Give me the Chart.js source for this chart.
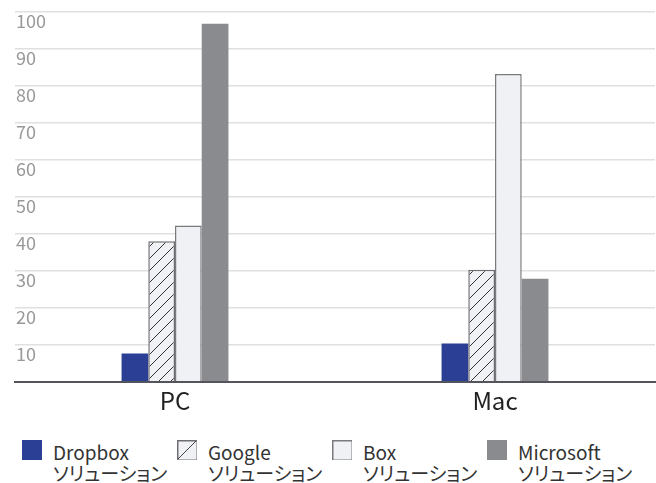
<!DOCTYPE html>
<html>
<head>
<meta charset="utf-8">
<script src="https://cdn.jsdelivr.net/npm/chart.js@4/dist/chart.umd.min.js"></script>
<style>
  html, body { margin: 0; padding: 0; background: #fff; }
  #wrap { position: relative; width: 656px; height: 483px; overflow: hidden; }
  #chartBox { position: absolute; left: 0; top: 0; width: 656px; height: 425px; }
  .item { position: absolute; top: 440px; }
  .item svg { position: absolute; left: 0; top: 0; }
  .item .txt {
    position: absolute; left: 31px; top: 1px; white-space: nowrap;
    font-family: "Noto Sans CJK JP", sans-serif; font-size: 19px; line-height: 21px;
    color: #333; font-feature-settings: "palt";
  }
</style>
</head>
<body>
<div id="wrap">
  <div id="chartBox"><canvas id="chart" width="656" height="425"></canvas></div>
  <div id="legend"></div>
</div>
<script>
const categories = ['PC', 'Mac'];
const seriesNames = ['Dropbox', 'Google', 'Box', 'Microsoft'];
const seriesSub = 'ソリューション';
const dropbox = [7.7, 10.4];
const google = [38.0, 30.3];
const box = [42.3, 83.2];
const microsoft = [96.8, 27.9];
const yTicks = [0, 10, 20, 30, 40, 50, 60, 70, 80, 90, 100];

// hatch pattern for Google
function hatch() {
    const c = document.createElement('canvas');
    c.width = 12; c.height = 12;
    const g = c.getContext('2d');
    g.fillStyle = '#f0f1f4';
    g.fillRect(0, 0, 12, 12);
    g.strokeStyle = '#333';
    g.lineWidth = 1;
    g.beginPath();
    g.moveTo(-1, 13); g.lineTo(13, -1);
    g.moveTo(-1, 1); g.lineTo(1, -1);
    g.moveTo(11, 13); g.lineTo(13, 11);
    g.stroke();
    return g.createPattern(c, 'repeat');
}

const ctx = document.getElementById('chart').getContext('2d');
new Chart(ctx, {
    type: 'bar',
    data: {
        labels: categories,
        datasets: [
            { label: seriesNames[0], data: dropbox, backgroundColor: '#2b3f95', borderWidth: 0 },
            { label: seriesNames[1], data: google, backgroundColor: hatch(), borderColor: '#6e6e72', borderWidth: 1.5 },
            { label: seriesNames[2], data: box, backgroundColor: '#f0f1f4', borderColor: '#7a7a7e', borderWidth: 1.5 },
            { label: seriesNames[3], data: microsoft, backgroundColor: '#8a8b8f', borderWidth: 0 }
        ]
    },
    options: {
        responsive: false,
        animation: false,
        layout: { padding: { top: 11, left: 15, right: 1, bottom: 0 } },
        datasets: { bar: { categoryPercentage: 0.334, barPercentage: 1 } },
        plugins: { legend: { display: false }, tooltip: { enabled: false } },
        scales: {
            x: {
                grid: { display: false, drawTicks: false },
                border: { display: true, color: '#55535e', width: 2, z: 2 },
                ticks: { color: '#222', padding: 4, font: { family: 'Noto Sans CJK JP', size: 24 } },
                afterFit: s => { s.height = 43; }
            },
            y: {
                min: 0, max: 100,
                afterBuildTicks: s => { s.ticks = yTicks.map(v => ({ value: v })); },
                grid: {
                    drawTicks: false,
                    color: c => c.tick && c.tick.value === 0 ? 'rgba(0,0,0,0)' : '#e0e0e0',
                    lineWidth: 1.5
                },
                border: { display: false },
                ticks: {
                    mirror: true, padding: 1, labelOffset: 9, color: '#999',
                    font: { family: 'Noto Sans CJK JP', size: 18 },
                    callback: v => v === 0 ? '' : v
                },
                afterFit: s => { s.width = 0; }
            }
        }
    }
});

// legend
const icons = [
    '<rect x="0" y="0" width="20" height="20" fill="#2b3f95"/>',
    '<rect x="0.75" y="0.75" width="19.5" height="19.5" fill="#f0f1f4" stroke="#6e6e72" stroke-width="1.5"/><line x1="1" y1="19" x2="19" y2="1" stroke="#444" stroke-width="1"/>',
    '<rect x="0.75" y="0.75" width="19.5" height="19.5" fill="#f0f1f4" stroke="#7a7a7e" stroke-width="1.5"/>',
    '<rect x="0" y="0" width="20" height="20" fill="#8a8b8f"/>'
];
const lefts = [22, 177, 332, 487];
const legend = document.getElementById('legend');
seriesNames.forEach((name, i) => {
    const d = document.createElement('div');
    d.className = 'item';
    d.style.left = lefts[i] + 'px';
    d.innerHTML = '<svg width="20" height="20">' + icons[i] + '</svg>' +
        '<div class="txt">' + name + '<br>' + seriesSub + '</div>';
    legend.appendChild(d);
});
</script>
</body>
</html>
